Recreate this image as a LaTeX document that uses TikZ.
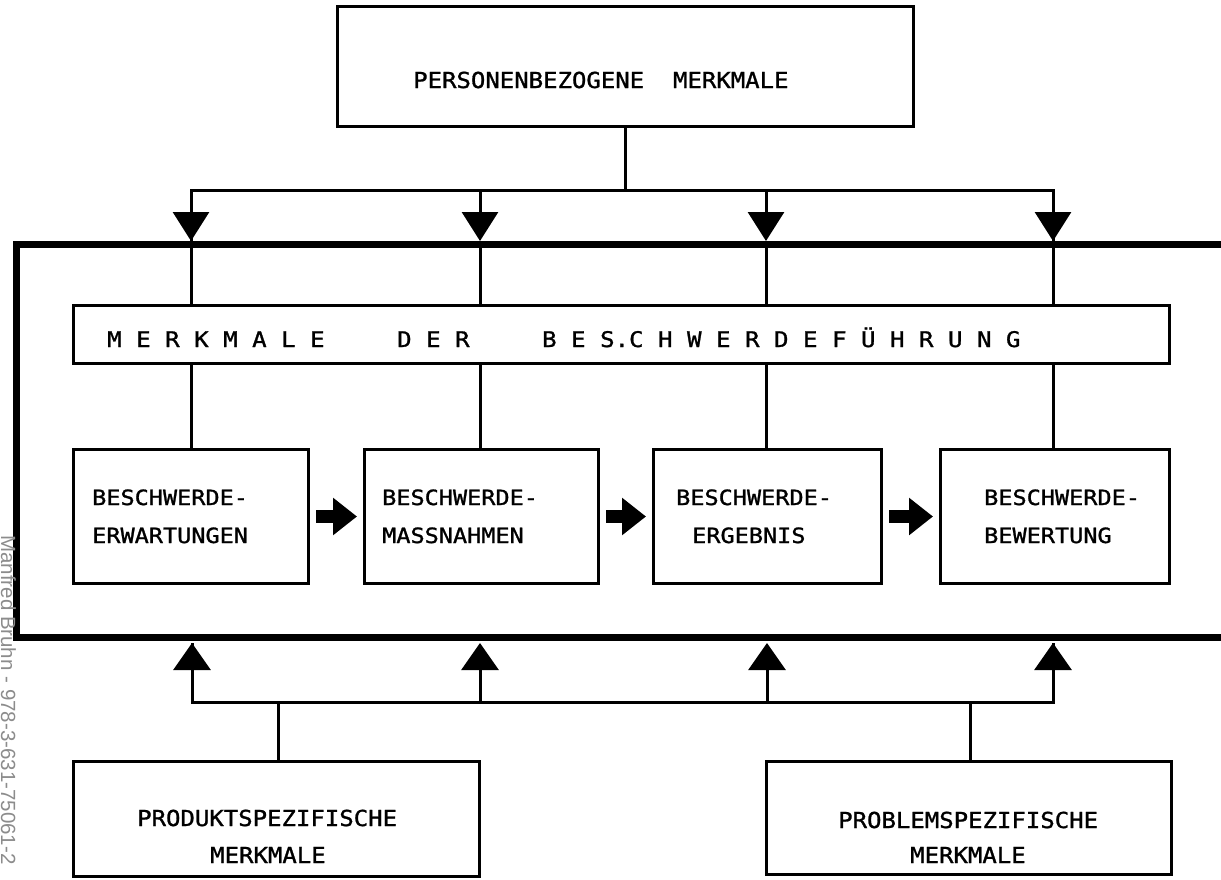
\documentclass[tikz,border=0pt]{standalone}
\usepackage{fontspec}
\newfontfamily\mono[FakeStretch=1.12,FakeBold=1.2]{DejaVu Sans Mono}
\newfontfamily\monob[FakeStretch=1.09,FakeBold=1.2]{DejaVu Sans Mono}
\newfontfamily\wmfont{Liberation Sans}
\usetikzlibrary{arrows.meta}
\tikzset{
  box/.style={draw, line width=3pt, rectangle, inner sep=0pt, anchor=north west},
  txt/.style={inner sep=0pt, anchor=base west, font=\mono\fontsize{21}{25}\selectfont},
  bigtxt/.style={inner sep=0pt, anchor=base west, font=\monob\fontsize{22}{26}\selectfont},
  conn/.style={line width=3pt},
  downarr/.style={conn, -{Triangle[length=29pt,width=36pt]}},
  uparr/.style={conn, -{Triangle[length=27pt,width=37pt]}},
  fatarr/.style={line width=13pt, -{Triangle[length=24pt,width=36pt]}, shorten <=6pt, shorten >=6pt},
  frame/.style={line width=7pt, line join=miter}
}
\begin{document}
\begin{tikzpicture}[x=1pt,y=-1pt]
\useasboundingbox (0,0) rectangle (1221,879);
\fill[white] (0,0) rectangle (1221,879);

% boxes
\node[box, minimum width=576pt, minimum height=120pt] (pers) at (336,5) {};
\node[box, minimum width=1096pt, minimum height=58pt] (mdb) at (72,304) {};
\node[box, minimum width=235pt, minimum height=134pt] (b1) at (72,448) {};
\node[box, minimum width=234pt, minimum height=134pt] (b2) at (363,448) {};
\node[box, minimum width=228pt, minimum height=134pt] (b3) at (652,448) {};
\node[box, minimum width=229pt, minimum height=134pt] (b4) at (939,448) {};
\node[box, minimum width=406pt, minimum height=115pt] (prod) at (72,760) {};
\node[box, minimum width=405pt, minimum height=113pt] (prob) at (765,760) {};

% texts
\node[bigtxt] (tpers) at (413,88) {PERSONENBEZOGENE~~MERKMALE};
\node[txt, font=\mono\fontsize{21.5}{25}\selectfont] (tmdb) at (107,347)
  {M~E~R~K~M~A~L~E~~~~~D~E~R~~~~~B~E~S.C~H~W~E~R~D~E~F~Ü~H~R~U~N~G};
\node[txt] (t1a) at (92,505) {BESCHWERDE-};
\node[txt] (t1b) at (92,543) {ERWARTUNGEN};
\node[txt] (t2a) at (382,505) {BESCHWERDE-};
\node[txt] (t2b) at (382,543) {MASSNAHMEN};
\node[txt] (t3a) at (676,505) {BESCHWERDE-};
\node[txt] (t3b) at (692,543) {ERGEBNIS};
\node[txt] (t4a) at (984,505) {BESCHWERDE-};
\node[txt] (t4b) at (984,543) {BEWERTUNG};
\node[bigtxt] (t5a) at (137,826) {PRODUKTSPEZIFISCHE};
\node[bigtxt] (t5b) at (210,863) {MERKMALE};
\node[bigtxt] (t6a) at (838,828) {PROBLEMSPEZIFISCHE};
\node[bigtxt] (t6b) at (910,863) {MERKMALE};

% frame
\draw[frame] (1230,244) -- (16,244) -- (16,637) -- (1230,637);

% top bus
\coordinate (u1) at (191,190);
\coordinate (u2) at (480,190);
\coordinate (u3) at (766,190);
\coordinate (u4) at (1053,190);
\coordinate (f1) at (191,241);
\coordinate (f2) at (480,241);
\coordinate (f3) at (766,241);
\coordinate (f4) at (1053,241);
\draw[conn] (pers.south -| 625,0) -- (625,190);
\draw[conn, line join=miter] (f1) -- (u1) -- (u4) -- (f4);
\foreach \i in {1,2,3,4} {
  \draw[downarr] (u\i) -- (f\i);
  \draw[conn] (f\i) -- (mdb.north -| f\i);
  \draw[conn] (mdb.south -| f\i) -- (b1.north -| f\i);
}

% process arrows
\draw[fatarr] (b1.east) -- (b2.west);
\draw[fatarr] (b2.east) -- (b3.west);
\draw[fatarr] (b3.east) -- (b4.west);

% bottom bus
\coordinate (d1) at (192,702);
\coordinate (d2) at (480,702);
\coordinate (d3) at (767,702);
\coordinate (d4) at (1053,702);
\coordinate (g1) at (192,643);
\coordinate (g2) at (480,643);
\coordinate (g3) at (767,643);
\coordinate (g4) at (1053,643);
\draw[conn, line join=miter] (g1) -- (d1) -- (d4) -- (g4);
\foreach \i in {1,2,3,4} {
  \draw[uparr] (d\i) -- (g\i);
}
\draw[conn] (prod.north -| 278,0) -- (278,702);
\draw[conn] (prob.north -| 970,0) -- (970,702);

% watermark
\node[rotate=-90, anchor=west, inner sep=0pt, text=black!45,
  font=\wmfont\fontsize{20.5}{22}\selectfont] (wm) at (8.5,535)
  {Manfred Bruhn - 978-3-631-75061-2};
\end{tikzpicture}
\end{document}
